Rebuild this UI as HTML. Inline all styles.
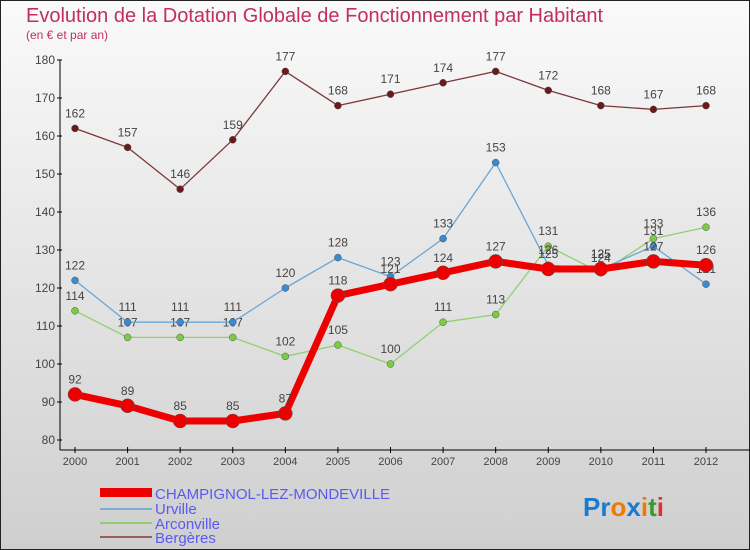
<!DOCTYPE html>
<html><head><meta charset="utf-8"><style>
body{margin:0;width:750px;height:550px;overflow:hidden;font-family:"Liberation Sans",sans-serif}
svg{display:block}
</style></head><body>
<svg id="c" width="750" height="550" viewBox="0 0 750 550">
<defs><linearGradient id="bg" x1="0" y1="0" x2="0" y2="1"><stop offset="0" stop-color="#fafafa"/><stop offset="1" stop-color="#cfcfcf"/></linearGradient></defs>
<rect x="0.5" y="0.5" width="749" height="549" fill="url(#bg)" stroke="#222"/>
<text x="26" y="22" font-size="20" fill="#c0305a">Evolution de la Dotation Globale de Fonctionnement par Habitant</text>
<text x="26" y="39" font-size="12" fill="#c0305a">(en € et par an)</text>
<g id="axes"></g><g id="series"></g>
<g>
<rect x="100" y="488" width="52" height="9" fill="#e00"/>
<text x="155" y="499" font-size="15" fill="#5a5af0">CHAMPIGNOL-LEZ-MONDEVILLE</text>
<rect x="100" y="508" width="52" height="2" fill="#7aaed0"/>
<text x="155" y="514" font-size="15" fill="#5a5af0">Urville</text>
<rect x="100" y="522" width="52" height="2" fill="#90d070"/>
<text x="155" y="529" font-size="15" fill="#5a5af0">Arconville</text>
<rect x="100" y="536" width="52" height="2" fill="#9a6060"/>
<text x="155" y="543" font-size="15" fill="#5a5af0">Bergères</text>
</g>
<text x="583" y="516" font-size="26" font-weight="bold"><tspan fill="#1a7ad0">Pr</tspan><tspan fill="#f07a00">o</tspan><tspan fill="#1a7ad0">x</tspan><tspan fill="#f07a00">i</tspan><tspan fill="#3a9a30">t</tspan><tspan fill="#e03030">i</tspan></text>
</svg>
<script>
const years=[2000,2001,2002,2003,2004,2005,2006,2007,2008,2009,2010,2011,2012];
const yTicks=[80,90,100,110,120,130,140,150,160,170,180];
const champignol=[92,89,85,85,87,118,121,124,127,125,125,127,126];
const urville=[122,111,111,111,120,128,123,133,153,126,125,131,121];
const arconville=[114,107,107,107,102,105,100,111,113,131,124,133,136];
const bergeres=[162,157,146,159,177,168,171,174,177,172,168,167,168];
const NS="http://www.w3.org/2000/svg";
function X(i){return 75+i*(706-75)/(years.length-1);}
function Y(v){return 440-(v-80)*3.8;}
function mk(t,a,p){const e=document.createElementNS(NS,t);for(const k in a)e.setAttribute(k,a[k]);p.appendChild(e);return e;}
const ax=document.getElementById('axes');
let l=mk('line',{x1:60,y1:Y(180),x2:60,y2:450,stroke:'#000'},ax);


l=mk('line',{x1:60,y1:450,x2:750,y2:450,stroke:'#000'},ax);


yTicks.forEach(v=>{
 const g=mk('line',{x1:57,y1:Y(v),x2:62,y2:Y(v),stroke:'#000'},ax);
 
 
 const t=mk('text',{x:55,y:Y(v)+4,'font-size':12,fill:'#444','text-anchor':'end'},ax);t.textContent=v;
 
 
});
years.forEach((yr,i)=>{
 const g=mk('line',{x1:X(i),y1:447,x2:X(i),y2:453,stroke:'#000'},ax);
 
 
 const t=mk('text',{x:X(i),y:465,'font-size':11,fill:'#444','text-anchor':'middle'},ax);t.textContent=yr;
 
 
});
const sg=document.getElementById('series');
function draw(name,vals,color,w,r,dot){
 const g=mk('g',{},sg);
 
 
 const p=mk('polyline',{points:vals.map((v,i)=>X(i)+','+Y(v)).join(' '),fill:'none',stroke:color,'stroke-width':w,'stroke-linejoin':'round'},g);
 
 
 vals.forEach((v,i)=>{
  const c=mk('circle',{cx:X(i),cy:Y(v),r:r,fill:dot,stroke:'#555','stroke-width':0.5},g);
  
  
  const t=mk('text',{x:X(i),y:Y(v)-11,'font-size':12,fill:'#444','text-anchor':'middle'},g);t.textContent=v;
  
  
 });
}
draw('bergeres',bergeres,'#7a3838',1.3,3.5,'#6a1a1a');
draw('arconville',arconville,'#90d070',1.3,3.5,'#7acc40');
draw('urville',urville,'#6aa6d6',1.3,3.5,'#3a8ad0');
draw('champignol',champignol,'#ee0000',7,7,'#ee0000');
</script>
</body></html>
